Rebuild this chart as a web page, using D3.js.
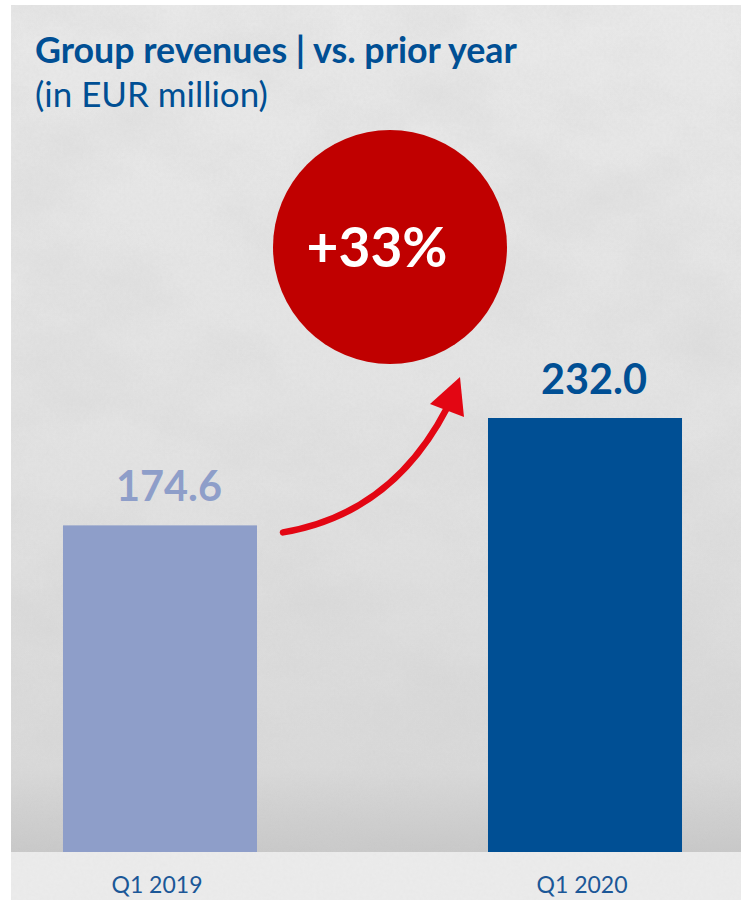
<!DOCTYPE html>
<html>
<head>
<meta charset="utf-8">
<script src="https://cdn.jsdelivr.net/npm/d3@7"></script>
<style>
  html, body { margin: 0; padding: 0; background: #ffffff; }
  svg { display: block; }
  text { font-family: Lato, "Open Sans", sans-serif; }
</style>
</head>
<body>
<svg id="chart"></svg>
<script>
// Data
const categories = ["Q1 2019", "Q1 2020"];
const revenues = [174.6, 232.0];
const valueLabels = ["174.6", "232.0"];
const changeLabel = "+33%";
const titleText = "Group revenues | vs. prior year";
const subtitleText = "(in EUR million)";

const width = 741, height = 900;
const barColors = ["#8e9ec9", "#004f94"];

const svg = d3.select("#chart").attr("width", width).attr("height", height);
const defs = svg.append("defs");

// Concrete-like background texture
const grain = defs.append("filter").attr("id", "clouds")
  .attr("x", 0).attr("y", 0).attr("width", "100%").attr("height", "100%");
grain.append("feTurbulence")
  .attr("type", "fractalNoise").attr("baseFrequency", "0.008 0.012")
  .attr("numOctaves", 5).attr("seed", 7);
grain.append("feColorMatrix").attr("type", "matrix")
  .attr("values", "0 0 0 0 0.62  0 0 0 0 0.62  0 0 0 0 0.62  1.1 0 0 0 -0.42");

const fine = defs.append("filter").attr("id", "grain")
  .attr("x", 0).attr("y", 0).attr("width", "100%").attr("height", "100%");
fine.append("feTurbulence")
  .attr("type", "fractalNoise").attr("baseFrequency", 0.3)
  .attr("numOctaves", 2).attr("seed", 3);
fine.append("feColorMatrix").attr("type", "matrix")
  .attr("values", "0 0 0 0 0.6  0 0 0 0 0.6  0 0 0 0 0.6  0.45 0 0 0 -0.14");

const shade = defs.append("linearGradient").attr("id", "wallShade")
  .attr("x1", 0).attr("y1", 0).attr("x2", 0).attr("y2", 1);
shade.append("stop").attr("offset", "0%").attr("stop-color", "#e9e9e9");
shade.append("stop").attr("offset", "55%").attr("stop-color", "#e2e2e2");
shade.append("stop").attr("offset", "90%").attr("stop-color", "#d9d9d9");
shade.append("stop").attr("offset", "100%").attr("stop-color", "#c8c8c8");

const bgLeft = 11, bgTop = 5, floorY = 852;

svg.append("rect").attr("x", bgLeft).attr("y", bgTop)
  .attr("width", width - bgLeft).attr("height", floorY - bgTop)
  .attr("fill", "url(#wallShade)");
svg.append("rect").attr("x", bgLeft).attr("y", bgTop)
  .attr("width", width - bgLeft).attr("height", floorY - bgTop)
  .attr("filter", "url(#clouds)").attr("opacity", 0.6);
svg.append("rect").attr("x", bgLeft).attr("y", bgTop)
  .attr("width", width - bgLeft).attr("height", floorY - bgTop)
  .attr("filter", "url(#grain)").attr("opacity", 0.5);

// floor
svg.append("rect").attr("x", bgLeft).attr("y", floorY)
  .attr("width", width - bgLeft).attr("height", height - floorY)
  .attr("fill", "#ebebeb");
svg.append("rect").attr("x", bgLeft).attr("y", floorY)
  .attr("width", width - bgLeft).attr("height", height - floorY)
  .attr("filter", "url(#grain)").attr("opacity", 0.3);

// Scales
const x = d3.scaleBand().domain(categories).range([2, 743])
  .paddingInner(0.5435).paddingOuter(0.1435);
const y = d3.scaleLinear().domain([0, 232]).range([floorY, 418]);

// fit font-size so that the text reaches a given width
function fit(sel, target) {
  const w = sel.node().getComputedTextLength();
  const fs = parseFloat(sel.attr("font-size"));
  sel.attr("font-size", (fs * target / w).toFixed(2));
  return sel;
}

// Title
fit(svg.append("text").attr("x", 35).attr("y", 63)
  .attr("font-size", 30).attr("font-weight", 700).attr("fill", "#004f94")
  .text(titleText), 482);
fit(svg.append("text").attr("x", 35).attr("y", 107)
  .attr("font-size", 28).attr("fill", "#004f94")
  .text(subtitleText), 233);

// Bars
svg.selectAll("rect.bar").data(revenues).join("rect")
  .attr("class", "bar")
  .attr("x", (d, i) => x(categories[i]))
  .attr("width", x.bandwidth())
  .attr("y", d => y(d))
  .attr("height", d => y(0) - y(d))
  .attr("fill", (d, i) => barColors[i]);

// Value labels
svg.selectAll("text.value").data(revenues).join("text")
  .attr("class", "value")
  .attr("x", (d, i) => x(categories[i]) + x.bandwidth() / 2 + 9)
  .attr("y", d => y(d) - 24)
  .attr("text-anchor", "middle")
  .attr("font-size", 40).attr("font-weight", 700)
  .attr("fill", (d, i) => barColors[i])
  .text((d, i) => valueLabels[i])
  .each(function() { fit(d3.select(this), 106); });

// Category labels
svg.selectAll("text.cat").data(categories).join("text")
  .attr("class", "cat")
  .attr("x", d => x(d) + x.bandwidth() / 2 - 3)
  .attr("y", 893)
  .attr("text-anchor", "middle")
  .attr("font-size", 22)
  .attr("fill", "#1b5797")
  .text(d => d)
  .each(function() { fit(d3.select(this), 91); });

// Growth bubble
const cx = 390, cy = 247, r = 117;
svg.append("circle").attr("cx", cx).attr("cy", cy).attr("r", r).attr("fill", "#c00000");
fit(svg.append("text").attr("x", cx - 13).attr("y", 267)
  .attr("text-anchor", "middle")
  .attr("font-size", 56).attr("font-weight", 700).attr("fill", "#ffffff")
  .text(changeLabel), 141);

// Curved arrow from the first bar towards the second
const x0 = x(categories[0]) + x.bandwidth() + 26, y0 = y(revenues[0]) + 7;
const x1 = x(categories[1]) - 41, y1 = y(revenues[1]) - 10;
const arrow = d3.path();
arrow.moveTo(x0, y0);
arrow.quadraticCurveTo(392, 514, x1, y1);
svg.append("path").attr("d", arrow.toString())
  .attr("fill", "none").attr("stroke", "#e30613")
  .attr("stroke-width", 6.5).attr("stroke-linecap", "round");
svg.append("path")
  .attr("d", `M${x1 + 13},${y1 - 31} L${x1 - 17},${y1 - 4} L${x1 + 17},${y1 + 9} Z`)
  .attr("fill", "#e30613");
</script>
</body>
</html>
